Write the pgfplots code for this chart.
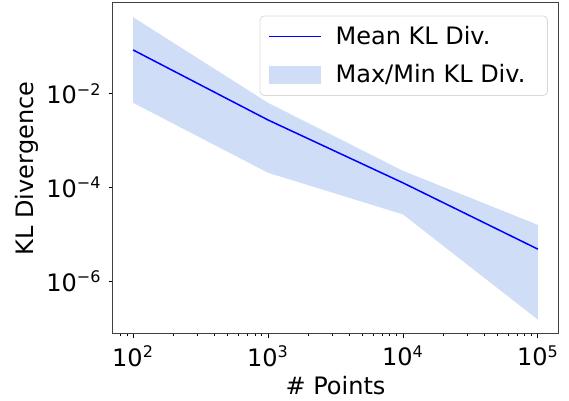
\documentclass[border=0pt]{standalone}
\usepackage{fontspec}
\setmainfont{DejaVu Sans}
\usepackage{pgfplots}
\pgfplotsset{compat=1.18}
\usepgfplotslibrary{fillbetween}
\definecolor{bandblue}{RGB}{207,222,246}
\definecolor{meanblue}{RGB}{0,0,255}
\begin{document}
\begin{tikzpicture}
\begin{axis}[
  name=ax,
  scale only axis,
  width=222.5pt, height=165.5pt,
  xmode=log, ymode=log,
  xmin=71, xmax=141000,
  ymin=7.4e-8, ymax=0.865,
  xtick={100,1000,10000,100000},
  xticklabels={10\textsuperscript{2},10\textsuperscript{3},10\textsuperscript{4},10\textsuperscript{5}},
  ytick={1e-2,1e-4,1e-6},
  yticklabels={10\textsuperscript{−2},10\textsuperscript{−4},10\textsuperscript{−6}},
  minor xtick={80,90,200,300,400,500,600,700,800,900,2000,3000,4000,5000,6000,7000,8000,9000,20000,30000,40000,50000,60000,70000,80000,90000},
  minor ytick={},
  tick align=outside,
  tick pos=left,
  major tick length=2.2pt,
  minor tick length=1.2pt,
  every tick/.style={black, line width=0.4pt},
  axis line style={black!75, line width=0.5pt},
  tick label style={font=\fontsize{12}{14}\selectfont},
  label style={font=\fontsize{12}{14}\selectfont},
  xlabel={\# Points},
  ylabel={KL Divergence},
  xlabel style={yshift=2pt},
  ylabel style={yshift=-3pt},
  legend style={at={(0.977,0.962)}, anchor=north east, draw=black!15, rounded corners=2pt, font=\fontsize{12}{14}\selectfont, inner xsep=4pt, inner ysep=3pt, row sep=4.5pt,
    nodes={inner xsep=7pt}},
  legend cell align=left,
  clip=true,
]
\addplot[name path=maxp, draw=none, forget plot] coordinates {(100,0.43) (1000,0.0064) (10000,2.26e-4) (100000,1.58e-5)};
\addplot[name path=minp, draw=none, forget plot] coordinates {(100,0.0064) (1000,2.05e-4) (10000,2.65e-5) (100000,1.5e-7)};
\addplot[color=meanblue, line width=0.75pt,
  legend image code/.code={\draw[meanblue, line width=0.75pt, sharp corners] (0pt,0pt) -- (26pt,0pt);}]
  coordinates {(100,0.086) (1000,0.00275) (10000,1.25e-4) (100000,4.8e-6)};
\addlegendentry{Mean KL Div.}
\addplot[fill=bandblue, draw=none,
  legend image code/.code={\fill[bandblue, sharp corners] (0pt,-4.5pt) rectangle (26pt,4.5pt);}]
  fill between[of=maxp and minp];
\addlegendentry{Max/Min KL Div.}
\end{axis}
\pgfresetboundingbox
\path ([xshift=-56.5pt,yshift=-33.5pt]ax.south west) rectangle ([xshift=5.5pt,yshift=1.5pt]ax.north east);
\end{tikzpicture}
\end{document}
